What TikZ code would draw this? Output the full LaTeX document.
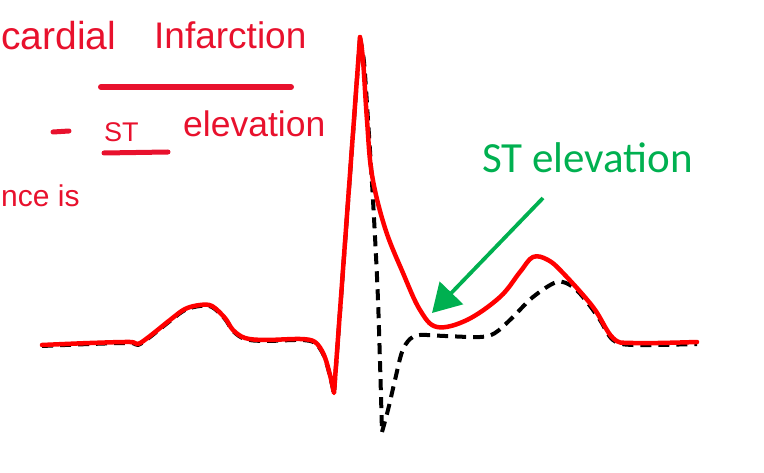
\documentclass[tikz,border=0pt]{standalone}
\usepackage{fontspec}
\setmainfont{Liberation Sans}
\newfontfamily\calfont{Carlito}
\usetikzlibrary{arrows.meta}
\definecolor{hand}{RGB}{232,17,45}
\definecolor{ecgred}{RGB}{255,0,0}
\definecolor{stgreen}{RGB}{0,176,80}
\tikzset{
  handtext/.style={text=hand, inner sep=0pt, anchor=base west},
  handline/.style={draw=hand, line width=6pt, line cap=round},
  redtrace/.style={draw=ecgred, line width=4.5pt, line join=round, line cap=round},
  blacktrace/.style={draw=black, line width=4pt, dash pattern=on 11pt off 7pt, line join=round},
  greenarrow/.style={draw=stgreen, line width=3.8pt, -{Triangle[length=28pt,width=32pt]}, fill=stgreen},
}
\begin{document}
\begin{tikzpicture}[x=1pt,y=-1pt]
\useasboundingbox (0,0) rectangle (764,473);
% handwritten notes
\node[handtext, font=\fontsize{39}{39}\selectfont] (t1) at (1,50) {cardial};
\node[handtext, font=\fontsize{37}{37}\selectfont] (t2) at (154,49) {Infarction};
\coordinate (u1a) at (101,87); \coordinate (u1b) at (291,87);
\draw[handline] (u1a) -- (u1b);
\coordinate (da) at (53,132); \coordinate (db) at (69,131);
\draw[handline, line width=5pt] (da) -- (db);
\node[handtext, font=\fontsize{27}{27}\selectfont] (t3) at (104,142) {ST};
\coordinate (u2a) at (104,153); \coordinate (u2b) at (168,152);
\draw[handline, line width=5pt] (u2a) -- (u2b);
\node[handtext, font=\fontsize{35.5}{35.5}\selectfont] (t4) at (183,137) {elevation};
\node[handtext, font=\fontsize{30}{30}\selectfont] (t5) at (1,207) {nce is};
% black dashed normal trace
\draw[blacktrace] plot[smooth, tension=0.55] coordinates {(42,346) (90,344) (130,343) (138,345) (150,337) (170,321) (185,310) (200,306) (212,307) (225,319) (233,331) (245,339) (265,341) (300,340) (315,343) (324,356) (330,376) (334,394)}
  -- (360,38)
  plot[smooth, tension=0.5] coordinates {(360,38) (364,62) (368,120) (373,200) (378,300) (382,432)}
  plot[smooth, tension=0.55] coordinates {(382,432) (388,410) (395,380) (402,352) (410,339) (420,335) (445,336) (480,337) (495,333) (512,318) (533,297) (557,282) (573,287) (587,302) (600,320) (613,340) (633,345) (697,344)};
% red ST elevation trace
\draw[redtrace] plot[smooth, tension=0.55] coordinates {(42,345) (90,343) (130,342) (138,344) (150,336) (170,320) (185,309) (200,305) (212,306) (225,318) (233,330) (245,338) (265,340) (300,339) (315,342) (324,355) (330,375) (334,393)}
  -- (360,37)
  plot[smooth, tension=0.6] coordinates {(360,37) (363,60) (367,120) (372,175) (385,228) (403,273) (420,310) (437,327) (467,320) (500,297) (520,272) (533,257) (548,260) (563,273) (593,307) (613,338) (633,343) (697,342)};
% label and arrow
\node[text=stgreen, inner sep=0pt, anchor=base west, font=\calfont\fontsize{43}{43}\selectfont] (lab) at (482,173) {ST elevation};
\coordinate (as) at (543,198);
\coordinate (ae) at (432,313);
\draw[greenarrow] (as) -- (ae);
\end{tikzpicture}
\end{document}
